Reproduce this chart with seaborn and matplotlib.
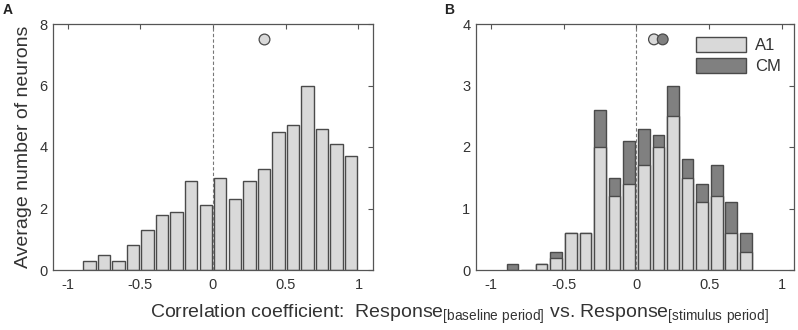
import numpy as np
import pandas as pd
import matplotlib
matplotlib.use("Agg")
import matplotlib.pyplot as plt
from matplotlib.patches import Patch
import seaborn as sns

# Bin centres (width 0.1)
centers_a = [-0.85, -0.75, -0.65, -0.55, -0.45, -0.35, -0.25, -0.15, -0.05,
             0.05, 0.15, 0.25, 0.35, 0.45, 0.55, 0.65, 0.75, 0.85, 0.95]
counts_a = [0.3, 0.5, 0.3, 0.8, 1.3, 1.8, 1.9, 2.9, 2.1,
            3.0, 2.3, 2.9, 3.3, 4.5, 4.7, 6.0, 4.6, 4.1, 3.7]

centers_b = [-0.85, -0.75, -0.65, -0.55, -0.45, -0.35, -0.25, -0.15, -0.05,
             0.05, 0.15, 0.25, 0.35, 0.45, 0.55, 0.65, 0.75]
counts_b_a1 = [0.0, 0.0, 0.1, 0.2, 0.6, 0.6, 2.0, 1.2, 1.4,
               1.7, 2.0, 2.5, 1.5, 1.1, 1.2, 0.6, 0.3]
counts_b_cm = [0.1, 0.0, 0.0, 0.1, 0.0, 0.0, 0.6, 0.3, 0.7,
               0.6, 0.2, 0.5, 0.3, 0.3, 0.5, 0.5, 0.3]

# Mean markers
mean_a = [0.35]
mean_a_y = [7.5]
mean_b = [0.12, 0.18]
mean_b_y = [3.75, 3.75]

xticks = [-1, -0.5, 0, 0.5, 1]
xticklabels = ["-1", "-0.5", "0", "0.5", "1"]

LIGHT = "#d9d9d9"
DARK = "#808080"
EDGE = "#4a4a4a"
TEXT = "#333333"

sns.set_theme(style="white")
plt.rcParams["font.family"] = ["Liberation Sans", "DejaVu Sans"]
plt.rcParams["axes.unicode_minus"] = False
plt.rcParams["mathtext.default"] = "regular"

fig = plt.figure(figsize=(7.98, 3.30), dpi=100)
ax_a = fig.add_axes([53 / 798, 1 - 270 / 330, 320 / 798, 246 / 330])
ax_b = fig.add_axes([476 / 798, 1 - 270 / 330, 318 / 798, 246 / 330])


def style_axes(ax, xlim, ylim, yticks):
    ax.set_xlim(*xlim)
    ax.set_ylim(*ylim)
    ax.set_xticks(xticks)
    ax.set_xticklabels(xticklabels)
    ax.set_yticks(yticks)
    ax.set_yticklabels([str(t) for t in yticks])
    ax.tick_params(direction="in", top=True, right=True, length=3.5,
                   width=0.8, color="#555555", labelsize=10.5,
                   labelcolor=TEXT)
    ax.tick_params(axis="x", pad=6)
    ax.tick_params(axis="y", pad=4)
    for sp in ax.spines.values():
        sp.set_visible(True)
        sp.set_color("#555555")
        sp.set_linewidth(0.9)
    ax.set_xlabel("")
    ax.set_ylabel("")
    ax.axvline(0, color="#777777", linestyle=(0, (3, 2)), linewidth=0.8,
               zorder=5)


# Panel A
df_a = pd.DataFrame({"r": centers_a, "n": counts_a})
sns.barplot(data=df_a, x="r", y="n", native_scale=True, width=0.85,
            color=LIGHT, saturation=1, edgecolor=EDGE, linewidth=1.0,
            ax=ax_a)
sns.scatterplot(x=mean_a, y=mean_a_y, ax=ax_a, s=60, color=LIGHT,
                edgecolor=EDGE, linewidth=0.9, zorder=6)
style_axes(ax_a, (-1.1, 1.1), (0, 8), [0, 2, 4, 6, 8])
ax_a.set_ylabel("Average number of neurons", fontsize=14, color=TEXT,
                labelpad=5)

# Panel B (stacked: total in CM colour, A1 drawn over it)
df_b = pd.DataFrame({"r": centers_b,
                     "A1": counts_b_a1,
                     "total": np.array(counts_b_a1) + np.array(counts_b_cm)})
sns.barplot(data=df_b, x="r", y="total", native_scale=True, width=0.8,
            color=DARK, saturation=1, edgecolor=EDGE, linewidth=1.0,
            ax=ax_b)
df_b_a1 = df_b[df_b["A1"] > 0]
sns.barplot(data=df_b_a1, x="r", y="A1", native_scale=True, width=0.8,
            color=LIGHT, saturation=1, edgecolor=EDGE, linewidth=1.0,
            ax=ax_b)
sns.scatterplot(x=mean_b, y=mean_b_y, ax=ax_b, s=60,
                hue=["A1", "CM"], palette={"A1": LIGHT, "CM": DARK},
                edgecolor=EDGE, linewidth=0.9, zorder=6, legend=False)
style_axes(ax_b, (-1.1, 1.08), (0, 4), [0, 1, 2, 3, 4])

handles = [Patch(facecolor=LIGHT, edgecolor=EDGE, linewidth=1.0, label="A1"),
           Patch(facecolor=DARK, edgecolor=EDGE, linewidth=1.0, label="CM")]
ax_b.legend(handles=handles, loc="upper right", frameon=False,
            fontsize=12, handlelength=3.0, handleheight=1.0,
            labelspacing=0.25, handletextpad=0.5,
            bbox_to_anchor=(1.0, 1.0), borderaxespad=0.4, labelcolor=TEXT)

# Shared x label
fig.text(150 / 798, 0.035,
         r"Correlation coefficient:  Response$_{\mathregular{[baseline\ period]}}$"
         r" vs. Response$_{\mathregular{[stimulus\ period]}}$",
         ha="left", va="baseline", fontsize=14, color=TEXT)

fig.text(0.003, 0.99, "A", fontsize=10, fontweight="bold", va="top",
         ha="left", color="#222222")
fig.text(444 / 798, 0.99, "B", fontsize=10, fontweight="bold", va="top",
         ha="left", color="#222222")

fig.savefig("out.png", dpi=100)
